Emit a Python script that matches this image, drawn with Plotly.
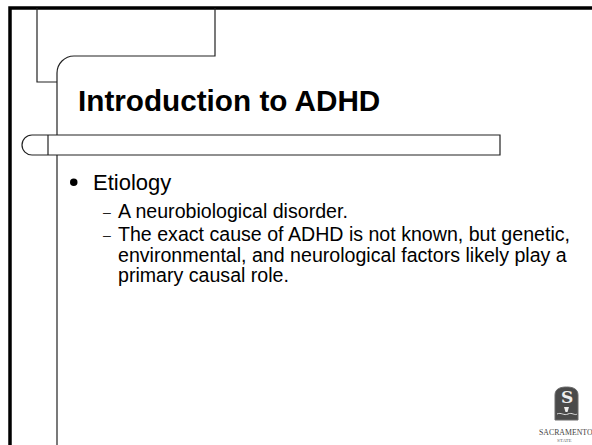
import plotly.graph_objects as go

W, H = 592, 445

title_text = "Introduction to ADHD"
bullet_items = ["Etiology"]
sub_items = [
    ["A neurobiological disorder."],
    ["The exact cause of ADHD is not known, but genetic,",
     "environmental, and neurological factors likely play a",
     "primary causal role."],
]
logo_lines = ["SACRAMENTO", "STATE"]

FONT = "Liberation Sans, Arial, sans-serif"
fig = go.Figure()

shapes = []
line_dark = dict(color="#222222", width=1.2)

# thick outer frame (left and top)
shapes.append(dict(type="path", path="M 10,446 L 10,8 L 593,8",
                   line=dict(color="black", width=3.5)))
# left small box
shapes.append(dict(type="path", path="M 37,8 L 37,82 L 57,82", line=line_dark))
# top box with rounded corner + long vertical line
r = 17
k = 0.5523 * r
shapes.append(dict(type="path",
                   path=f"M 215,8 L 215,56 L {57+r},56 C {57+r-k},56 57,{56+r-k} 57,{56+r} L 57,446",
                   line=line_dark))
# horizontal bar with rounded left cap (white filled, over the vertical line)
br = 10
bk = 0.5523 * br
cx = 22 + br
shapes.append(dict(type="path",
                   path=(f"M 500,135 L {cx},135 C {cx-bk},135 22,{145-bk} 22,145 "
                         f"C 22,{145+bk} {cx-bk},155 {cx},155 L 500,155 Z"),
                   fillcolor="white", line=line_dark))
shapes.append(dict(type="line", x0=48, x1=48, y0=135, y1=155, line=line_dark))

annotations = []
annotations.append(dict(x=76, y=100, text=f"<b>{title_text}</b>", showarrow=False,
                        xanchor="left", yanchor="middle",
                        font=dict(family=FONT, size=29.7, color="black")))
# bullet
shapes.append(dict(type="circle", x0=70, x1=77.5, y0=178.5, y1=186, fillcolor="black",
                   line=dict(width=0)))
annotations.append(dict(x=91, y=182, text=bullet_items[0], showarrow=False,
                        xanchor="left", yanchor="middle",
                        font=dict(family=FONT, size=22, color="black")))

ys = [211, 234, 255, 275]
i = 0
for grp in sub_items:
    for j, ln in enumerate(grp):
        if j == 0:
            annotations.append(dict(x=101, y=ys[i] + 1, text="–", showarrow=False,
                                    xanchor="left", yanchor="middle",
                                    font=dict(family=FONT, size=14, color="#222222")))
        annotations.append(dict(x=116, y=ys[i], text=ln, showarrow=False,
                                xanchor="left", yanchor="middle",
                                font=dict(family=FONT, size=19.6, color="black")))
        i += 1

# logo: shield
shapes.append(dict(type="path",
                   path="M 555,420 L 555,395 C 555,389 560,387 566.5,387 C 573,387 578,389 578,395 L 578,420 Z",
                   fillcolor="#4a4a4a", line=dict(color="#6a6a6a", width=1)))
shapes.append(dict(type="path", path="M 557,414 C 561,412 564,416 568,414 C 572,412 575,416 577,414",
                   line=dict(color="#dddddd", width=1)))
shapes.append(dict(type="path", path="M 564,407 L 569,407 L 567.5,412 L 565.5,412 Z",
                   fillcolor="#eeeeee", line=dict(width=0)))
annotations.append(dict(x=566.5, y=397, text="<b>S</b>", showarrow=False,
                        xanchor="center", yanchor="middle",
                        font=dict(family="DejaVu Serif, serif", size=17, color="#eeeeee")))
annotations.append(dict(x=537, y=432, text=logo_lines[0], showarrow=False,
                        xanchor="left", yanchor="middle",
                        font=dict(family="Liberation Serif, serif", size=7.8, color="#444444")))
annotations.append(dict(x=564, y=440, text=logo_lines[1], showarrow=False,
                        xanchor="center", yanchor="middle",
                        font=dict(family="Liberation Serif, serif", size=5, color="#666666")))

fig.update_layout(
    width=W, height=H,
    margin=dict(l=0, r=0, t=0, b=0),
    paper_bgcolor="white", plot_bgcolor="white",
    xaxis=dict(range=[0, W], visible=False, fixedrange=True),
    yaxis=dict(range=[H, 0], visible=False, fixedrange=True),
    shapes=shapes, annotations=annotations,
    showlegend=False,
)
fig.write_html("out.html", config={"displayModeBar": False},
               post_script="document.body.style.margin='0';document.body.style.overflow='hidden';")
